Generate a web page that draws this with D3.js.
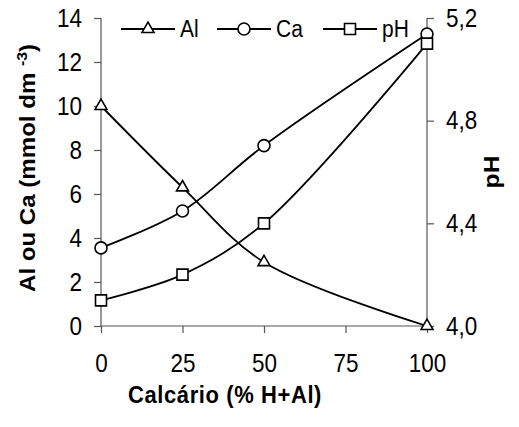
<!DOCTYPE html>
<html><head><meta charset="utf-8">
<script src="https://cdn.jsdelivr.net/npm/d3@7"></script>
<style>
body{margin:0;background:#fff;}
text{font-family:"Liberation Sans",Arial,sans-serif;}
</style></head>
<body><svg id="c" width="519" height="427"></svg>
<script>
const calcario = [0, 25, 50, 100];
const al = [10, 6.3, 2.9, 0];
const ca = [3.55, 5.23, 8.2, 13.27];
const ph = [4.1, 4.2, 4.4, 5.1];
const xTicks = [0, 25, 50, 75, 100];
const yTicks = [0, 2, 4, 6, 8, 10, 12, 14];
const phTicks = [4.0, 4.4, 4.8, 5.2];
const seriesNames = ["Al", "Ca", "pH"];

const svg = d3.select("#c");
const L = 101, R = 427, T = 18, B = 326;
const K = 1.12; // vertical stretch of glyphs
const x = d3.scaleLinear().domain([0, 100]).range([L, R]);
const y = d3.scaleLinear().domain([0, 14]).range([B, T]);
const y2 = d3.scaleLinear().domain([4.0, 5.2]).range([B, T]);
const fmt = d => d.toFixed(1).replace(".", ",");

const axisColor = "#555";
const fs = 22.5;

function stretch(sel) {
  sel.each(function() {
    const t = d3.select(this);
    const tx = +t.attr("x") || 0, ty = +t.attr("y") || 0;
    t.attr("transform", `translate(${tx},${ty}) scale(1,${K}) translate(${-tx},${-ty})`);
  });
}

const gl = svg.append("g").attr("transform", `translate(${L},0)`)
  .call(d3.axisLeft(y).tickValues(yTicks).tickSize(7).tickPadding(12).tickFormat(d3.format("d")));
const gr = svg.append("g").attr("transform", `translate(${R},0)`)
  .call(d3.axisRight(y2).tickValues(phTicks).tickSize(7).tickPadding(12).tickFormat(fmt));
const gb = svg.append("g").attr("transform", `translate(0,${B})`)
  .call(d3.axisBottom(x).tickValues(xTicks).tickSize(7).tickPadding(21).tickFormat(d3.format("d")));

[gl, gr, gb].forEach(g => {
  g.select(".domain").attr("stroke", axisColor).attr("stroke-width", 1.2);
  g.selectAll(".tick line").attr("stroke", axisColor).attr("stroke-width", 1.2);
  g.selectAll(".tick text").attr("font-size", fs).attr("fill", "#000")
    .attr("font-family", "Liberation Sans, Arial, sans-serif").call(stretch);
});
gl.select(".domain").attr("d", `M0,${B}V${T}`);
gr.select(".domain").attr("d", `M0,${B}V${T}`);
gb.select(".domain").attr("d", `M${L},0H${R}`);

const line = (xs, ys, sc) => d3.line().curve(d3.curveCatmullRom.alpha(0.5))
  .x((d, i) => x(xs[i])).y((d, i) => sc(ys[i]))(ys);

const g = svg.append("g");
[[al, y], [ca, y], [ph, y2]].forEach(([ys, sc]) => {
  g.append("path").attr("d", line(calcario, ys, sc)).attr("fill", "none")
    .attr("stroke", "#000").attr("stroke-width", 1.8);
});

const tri = d3.symbol().type(d3.symbolTriangle).size(62);
const circ = d3.symbol().type(d3.symbolCircle).size(113);
const sq = d3.symbol().type(d3.symbolSquare).size(121);

function markers(xs, ys, sc, sym) {
  g.selectAll(null).data(ys).enter().append("path")
    .attr("d", sym)
    .attr("transform", (d, i) => `translate(${x(xs[i])},${sc(d)})`)
    .attr("fill", "#fff").attr("stroke", "#000").attr("stroke-width", 1.6);
}
markers(calcario, al, y, tri);
markers(calcario, ca, y, circ);
markers(calcario, ph, y2, sq);

// legend
const leg = svg.append("g");
const legItems = [
  {name: seriesNames[0], x1: 121, sym: tri},
  {name: seriesNames[1], x1: 217, sym: circ},
  {name: seriesNames[2], x1: 323, sym: sq}
];
const ly = 29;
legItems.forEach(it => {
  leg.append("line").attr("x1", it.x1).attr("x2", it.x1 + 54).attr("y1", ly).attr("y2", ly)
    .attr("stroke", "#000").attr("stroke-width", 1.8);
  leg.append("path").attr("d", it.sym).attr("transform", `translate(${it.x1 + 27},${ly})`)
    .attr("fill", "#fff").attr("stroke", "#000").attr("stroke-width", 1.6);
  leg.append("text").attr("transform", `translate(${it.x1 + 59},${ly}) scale(1,${K})`)
    .attr("dy", "0.36em").attr("font-size", 21).text(it.name);
});

// axis titles
const yt = svg.append("text").attr("transform", `translate(35,168) rotate(-90) scale(${K},1)`)
  .attr("text-anchor", "middle").attr("font-size", 21.5).attr("font-weight", "bold");
yt.append("tspan").text("Al ou Ca (mmol dm ");
yt.append("tspan").attr("font-size", 14).attr("dy", -8).text("-3");
yt.append("tspan").attr("dy", 8).text(")");

svg.append("text").attr("transform", `translate(499,172) rotate(-90) scale(${K},1)`)
  .attr("text-anchor", "middle").attr("font-size", 22).attr("font-weight", "bold").text("pH");

svg.append("text").attr("transform", `translate(225,403) scale(1,${K})`).attr("text-anchor", "middle")
  .attr("font-size", 22).attr("font-weight", "bold").attr("letter-spacing", 0.6)
  .text("Calcário (% H+Al)");
</script></body></html>
